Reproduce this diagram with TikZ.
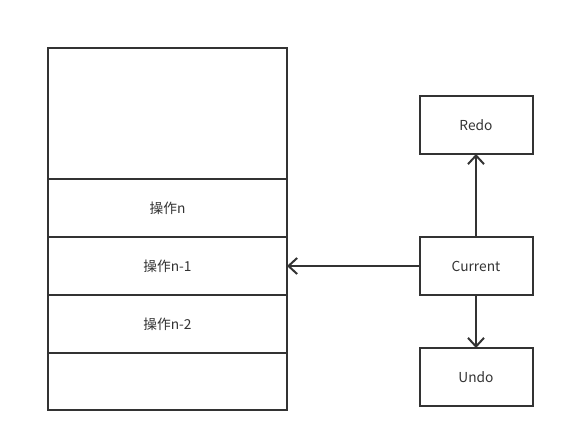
\documentclass[tikz,border=0pt]{standalone}
\usepackage{fontspec}
\setmainfont{Noto Sans CJK SC}
\usetikzlibrary{positioning,arrows.meta}
\definecolor{ink}{HTML}{333333}

\begin{document}
\begin{tikzpicture}[x=0.75pt,y=-0.75pt,line width=1.5pt,draw=ink,text=ink,
  font=\fontsize{10.3}{12}\selectfont,
  cell/.style={draw,shape=rectangle,inner sep=0pt,outer sep=0pt,minimum width=179.25pt,minimum height=43.5pt},
  state/.style={draw,shape=rectangle,inner sep=0pt,outer sep=0pt,minimum width=84.75pt,minimum height=43.5pt},
  ptr/.style={-{Straight Barb[length=6.5pt,width=12pt,line width=1.5pt]}}]
  \useasboundingbox (0,0) rectangle (565,443);
  % stack of operations
  \node[cell,minimum height=98.25pt] (free) at (167.5,113.5) {};
  \node[cell,below=0pt of free] (opn) {操作n};
  \node[cell,below=0pt of opn] (opn1) {操作n-1};
  \node[cell,below=0pt of opn1] (opn2) {操作n-2};
  \node[cell,below=0pt of opn2,minimum height=42.75pt] (rest) {};
  % pointers
  \node[state] (redo) at (476,125) {Redo};
  \node[state] (current) at (476,266) {Current};
  \node[state] (undo) at (476,377) {Undo};
  \draw[ptr] (current) -- (redo);
  \draw[ptr] (current) -- (undo);
  \draw[ptr] (current) -- (opn1.east);
\end{tikzpicture}
\end{document}
